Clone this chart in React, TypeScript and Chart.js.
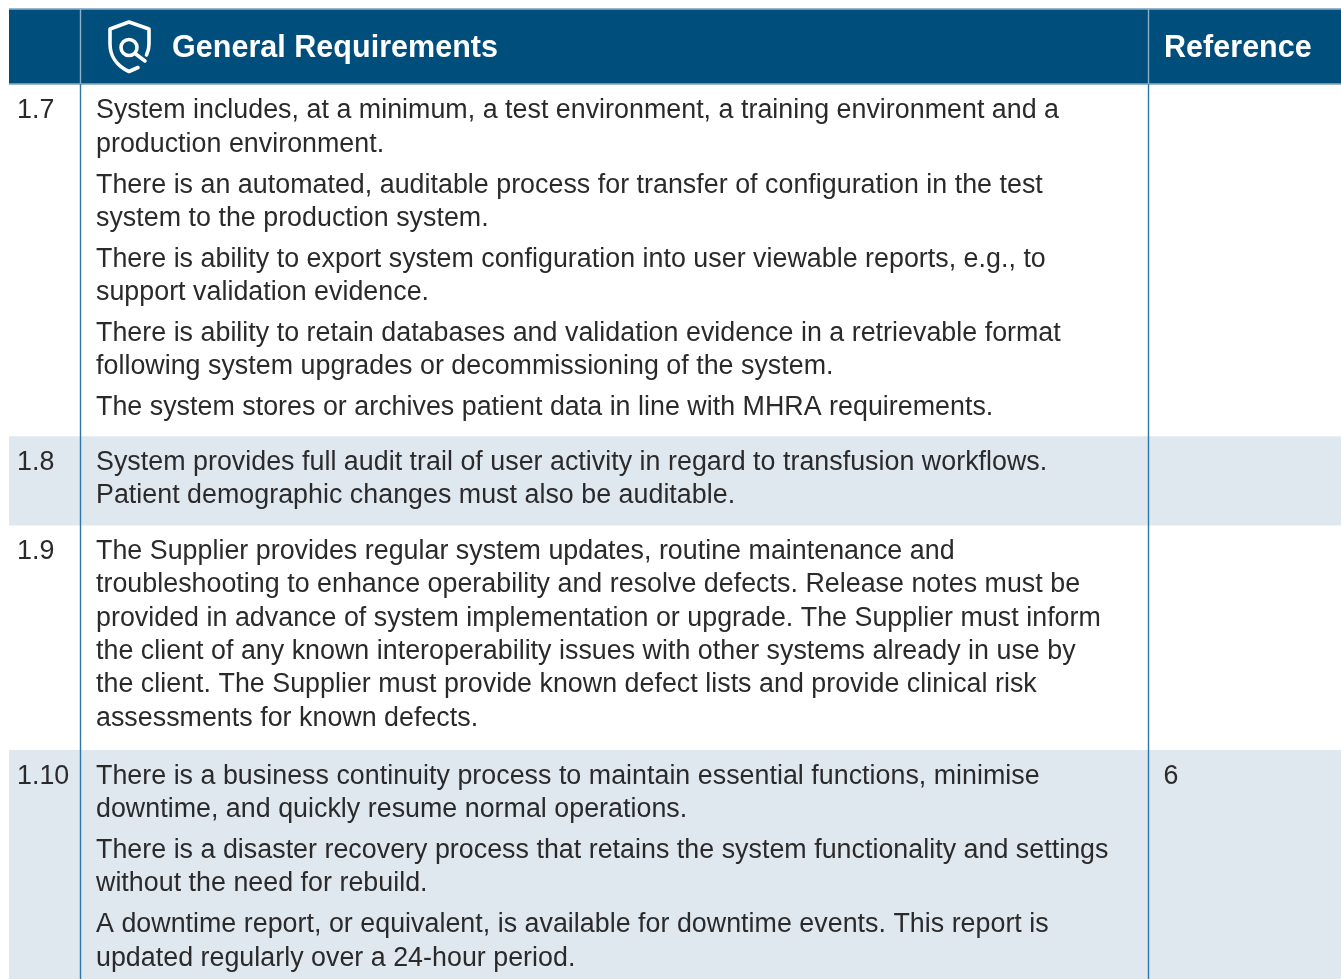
import React, { useEffect, useRef } from "react";
import { Chart, registerables } from "chart.js";

Chart.register(...registerables);

const headerTitle = "General Requirements";
const headerReference = "Reference";

const rowNumbers = ["1.7", "1.8", "1.9", "1.10"];
const rowReferences = ["", "", "", "6"];

const requirements1_7 = [
  ["System includes, at a minimum, a test environment, a training environment and a", "production environment."],
  ["There is an automated, auditable process for transfer of configuration in the test", "system to the production system."],
  ["There is ability to export system configuration into user viewable reports, e.g., to", "support validation evidence."],
  ["There is ability to retain databases and validation evidence in a retrievable format", "following system upgrades or decommissioning of the system."],
  ["The system stores or archives patient data in line with MHRA requirements."],
];
const requirements1_8 = [
  ["System provides full audit trail of user activity in regard to transfusion workflows.", "Patient demographic changes must also be auditable."],
];
const requirements1_9 = [
  [
    "The Supplier provides regular system updates, routine maintenance and",
    "troubleshooting to enhance operability and resolve defects. Release notes must be",
    "provided in advance of system implementation or upgrade. The Supplier must inform",
    "the client of any known interoperability issues with other systems already in use by",
    "the client. The Supplier must provide known defect lists and provide clinical risk",
    "assessments for known defects.",
  ],
];
const requirements1_10 = [
  ["There is a business continuity process to maintain essential functions, minimise", "downtime, and quickly resume normal operations."],
  ["There is a disaster recovery process that retains the system functionality and settings", "without the need for rebuild."],
  ["A downtime report, or equivalent, is available for downtime events. This report is", "updated regularly over a 24-hour period."],
];
const rowParagraphs = [requirements1_7, requirements1_8, requirements1_9, requirements1_10];

// Layout and style, kept apart from the content above.
const WIDTH = 1341;
const HEIGHT = 979;
const TABLE_LEFT = 9;
const HEADER_TOP = 9;
const HEADER_BOTTOM = 84;
const COLUMN_RULES = [80.5, 1148.5];
const LINE_STEP = 33.3;
const PARAGRAPH_STEP = 40.8;
const ROW_TOP_PADS = [34.4, 34, 33.9, 34.3];
const ROW_BOTTOM_PADS = [21.1, 22, 24.1, 60];
const BODY_FONT = '26.8px "Liberation Sans"';
const BODY_SPACING = "0.03px";
const HEAD_FONT = 'bold 30.5px "Liberation Sans"';
const HEAD_SPACING = "0.03px";
const BODY_COLOR = "#2b2a2b";
const NAVY = "#004e7c";
const BAND = "#dfe7ef";
const RULE_BODY = "#2f75a6";
const RULE_HEAD = "#8db0c8";

function linesHeight(paragraphs: string[][]) {
  let h = 0;
  paragraphs.forEach((p, i) => {
    h += (p.length - 1) * LINE_STEP;
    if (i < paragraphs.length - 1) h += PARAGRAPH_STEP;
  });
  return h;
}

const rowExtents: [number, number][] = [];
{
  let top = HEADER_BOTTOM;
  rowParagraphs.forEach((p, i) => {
    const bottom = top + ROW_TOP_PADS[i] + linesHeight(p) + ROW_BOTTOM_PADS[i];
    rowExtents.push([top, bottom]);
    top = bottom;
  });
}

const tableTextPlugin = {
  id: "tableText",
  afterDatasetsDraw(chart: any) {
    const { ctx, scales } = chart;
    const px = (v: number) => scales.x2.getPixelForValue(v);
    const py = (v: number) => scales.y.getPixelForValue(v);
    ctx.save();
    ctx.textBaseline = "alphabetic";
    ctx.textAlign = "left";

    ctx.fillStyle = "#ffffff";
    ctx.font = HEAD_FONT;
    ctx.letterSpacing = HEAD_SPACING;
    ctx.fillText(headerTitle, px(172), py(57));
    ctx.fillText(headerReference, px(1164), py(57));

    // Shield and magnifier emblem
    ctx.strokeStyle = "#ffffff";
    ctx.lineWidth = 3.6;
    ctx.lineCap = "round";
    ctx.lineJoin = "round";
    ctx.beginPath();
    ctx.moveTo(px(138), py(67.5));
    ctx.lineTo(px(129), py(71.5));
    ctx.bezierCurveTo(px(117), py(66), px(110), py(56), px(110), py(44));
    ctx.lineTo(px(110), py(29));
    ctx.lineTo(px(129), py(22));
    ctx.lineTo(px(149), py(29));
    ctx.lineTo(px(149), py(44));
    ctx.bezierCurveTo(px(149), py(48), px(148), py(52), px(146.5), py(55));
    ctx.stroke();
    ctx.beginPath();
    ctx.arc(px(129), py(47.5), 8, 0, Math.PI * 2);
    ctx.moveTo(px(135), py(53.5));
    ctx.lineTo(px(145), py(61));
    ctx.stroke();

    ctx.fillStyle = BODY_COLOR;
    ctx.font = BODY_FONT;
    ctx.letterSpacing = BODY_SPACING;
    rowParagraphs.forEach((paragraphs, r) => {
      const [top] = rowExtents[r];
      let y = top + ROW_TOP_PADS[r];
      ctx.fillText(rowNumbers[r], px(17), py(y));
      if (rowReferences[r]) ctx.fillText(rowReferences[r], px(1163.5), py(y));
      paragraphs.forEach((lines) => {
        lines.forEach((line, l) => {
          ctx.fillText(line, px(96), py(y));
          if (l < lines.length - 1) y += LINE_STEP;
        });
        y += PARAGRAPH_STEP;
      });
    });
    ctx.restore();
  },
};

export default function App() {
  const ref = useRef<HTMLCanvasElement>(null);
  useEffect(() => {
    const rowDatasets = rowExtents.map((extent, i) => ({
      type: "bar",
      label: rowNumbers[i],
      data: [extent],
      xAxisID: "x",
      yAxisID: "y",
      backgroundColor: i % 2 === 1 ? BAND : "#ffffff",
      categoryPercentage: 1,
      barPercentage: 1,
      grouped: false,
      order: 2,
    }));
    const headerDataset = {
      type: "bar",
      label: "header",
      data: [[HEADER_TOP, HEADER_BOTTOM]],
      xAxisID: "x",
      yAxisID: "y",
      backgroundColor: NAVY,
      categoryPercentage: 1,
      barPercentage: 1,
      grouped: false,
      order: 2,
    };
    const rule = (points: { x: number; y: number }[], color: string) => ({
      type: "line",
      data: points,
      xAxisID: "x2",
      yAxisID: "y",
      borderColor: color,
      borderWidth: 1.4,
      pointRadius: 0,
      order: 1,
    });
    const ruleDatasets = [
      ...COLUMN_RULES.map((x) => rule([{ x, y: HEADER_TOP }, { x, y: HEADER_BOTTOM }], RULE_HEAD)),
      ...COLUMN_RULES.map((x) => rule([{ x, y: HEADER_BOTTOM }, { x, y: HEIGHT }], RULE_BODY)),
      rule([{ x: TABLE_LEFT, y: HEADER_TOP }, { x: WIDTH, y: HEADER_TOP }], RULE_HEAD),
      rule([{ x: TABLE_LEFT, y: HEADER_BOTTOM }, { x: WIDTH, y: HEADER_BOTTOM }], RULE_HEAD),
    ];
    const chart = new Chart(ref.current!, {
      data: {
        labels: ["table"],
        datasets: [headerDataset, ...rowDatasets, ...ruleDatasets] as any,
      },
      options: {
        responsive: false,
        animation: false,
        layout: { padding: { left: TABLE_LEFT, top: 0, right: 0, bottom: 0 } },
        plugins: { legend: { display: false }, tooltip: { enabled: false } },
        scales: {
          x: { type: "category", display: false, offset: true },
          x2: { type: "linear", display: false, min: TABLE_LEFT, max: WIDTH },
          y: { type: "linear", display: false, min: 0, max: HEIGHT, reverse: true },
        },
      } as any,
      plugins: [tableTextPlugin],
    });
    return () => chart.destroy();
  }, []);
  return (
    <div style={{ position: "absolute", left: 0, top: 0, width: WIDTH, height: HEIGHT, background: "#ffffff" }}>
      <canvas ref={ref} width={WIDTH} height={HEIGHT} style={{ display: "block" }} />
    </div>
  );
}
